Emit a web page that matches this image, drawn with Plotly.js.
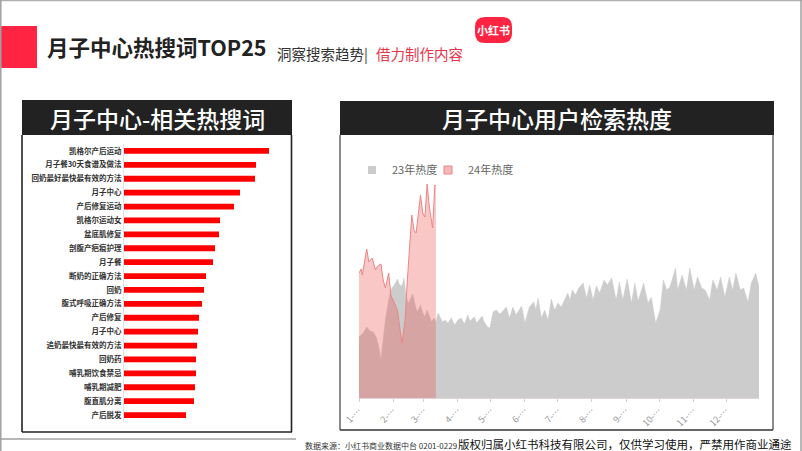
<!DOCTYPE html>
<html><head><meta charset="utf-8">
<script src="https://cdn.plot.ly/plotly-3.0.1.min.js"></script>
<style>html,body{margin:0;padding:0;background:#fff;}#chart{width:802px;height:451px;}</style>
</head><body><div id="chart"></div>
<script>
// ---- data ----
const keywords = ['凯格尔产后运动','月子餐30天食谱及做法','回奶最好最快最有效的方法','月子中心','产后修复运动','凯格尔运动女','盆底肌修复','剖腹产疤痕护理','月子餐','断奶的正确方法','回奶','腹式呼吸正确方法','产后修复','月子中心','追奶最快最有效的方法','回奶药','哺乳期饮食禁忌','哺乳期减肥','腹直肌分离','产后脱发'];
const keywordHeat = [145,132,131,116,110,96,95,91,89,82,80,78,75,74,73,72,72,71,70,62];

const days23 = [0,2,4,7,10,13,16,18,20,22,24,27,29,32,35,37,39,41,43,45,47,49,51,53,56,58,60,62,64,66,68,70,72,74,76,78,81,84,87,90,93,96,99,101,105,107,112,114,117,119,122,125,128,131,134,137,140,143,146,148,151,155,159,161,163,166,169,172,175,178,181,184,187,190,192,194,197,200,204,207,210,213,216,219,223,226,230,234,237,240,244,248,251,254,259,263,266,270,274,277,280,283,288,290,294,298,301,305,308,312,315,319,322,326,329,333,337,340,343,347,350,354,357,361,364];
const heat23 = [61,63,65,71,67,66,60,51,38,58,78,98,108,113,119,113,112,120,101,95,100,104,93,86,93,85,81,88,82,76,80,76,85,81,76,78,75,80,73,78,80,74,83,77,81,75,82,76,71,70,86,88,84,87,91,80,91,83,88,92,75,91,96,88,100,80,88,78,99,88,95,91,98,105,98,108,103,110,115,100,113,98,112,105,118,113,120,98,116,98,119,95,115,97,115,95,101,75,88,118,108,111,130,108,123,108,130,108,121,110,108,98,118,108,121,101,121,108,125,108,110,96,115,125,111];

const days24 = [0,2,3,7,9,12,15,17,20,22,24,27,29,32,35,37,39,42,44,48,50,52,56,58,60,62,64,67,69,70];
const heat24 = [125,129,123,149,136,140,128,132,134,118,110,125,103,95,88,71,55,78,118,183,168,165,203,185,181,214,191,170,213,212];

const monthTickDays = [0,31,59,90,120,151,181,212,243,273,304,334];
const monthTickLabels = ['1-…','2-…','3-…','4-…','5-…','6-…','7-…','8-…','9-…','10-…','11-…','12-…'];
const seriesNames = ['23年热度','24年热度'];

// ---- helpers (pixel -> paper) ----
const W = 802, H = 451;
const px = x => x / W;
const py = y => 1 - y / H;
const CJK = '"Noto Sans CJK SC","Noto Sans",sans-serif';

function rect(x0,y0,x1,y1,fill){return {type:'rect',xref:'paper',yref:'paper',x0:px(x0),x1:px(x1),y0:py(y1),y1:py(y0),fillcolor:fill,line:{width:0},layer:'below'};}
function line(x0,y0,x1,y1,color,w){return {type:'line',xref:'paper',yref:'paper',x0:px(x0),x1:px(x1),y0:py(y0),y1:py(y1),line:{color:color,width:w}};}
function roundRect(x0,y0,x1,y1,r,fill){
  const P=(x,y)=>px(x)+','+py(y);
  const d='M'+P(x0+r,y0)+' L'+P(x1-r,y0)+' Q'+P(x1,y0)+' '+P(x1,y0+r)+' L'+P(x1,y1-r)+' Q'+P(x1,y1)+' '+P(x1-r,y1)+
    ' L'+P(x0+r,y1)+' Q'+P(x0,y1)+' '+P(x0,y1-r)+' L'+P(x0,y0+r)+' Q'+P(x0,y0)+' '+P(x0+r,y0)+' Z';
  return {type:'path',xref:'paper',yref:'paper',path:d,fillcolor:fill,line:{width:0}};
}
function text(t,x,y,size,color,opts,weight){return Object.assign({text:t,xref:'paper',yref:'paper',x:px(x),y:py(y),showarrow:false,xanchor:'left',yanchor:'middle',font:{family:CJK,size:size,color:color,weight:weight||'normal'}},opts||{});}
function legendAt(x,y){return {orientation:'h',x:px(x),y:py(y),xanchor:'left',yanchor:'middle',font:{family:CJK,size:11,color:'#666'},itemwidth:30,bgcolor:'rgba(0,0,0,0)'};}

const idx = keywords.map((_,i)=>i);

const traces = [
  {type:'bar',orientation:'h',x:keywordHeat,y:idx,xaxis:'x',yaxis:'y',marker:{color:'#ff0000'},width:0.42,showlegend:false,hoverinfo:'skip'},
  {type:'scatter',mode:'lines',x:days23,y:heat23,xaxis:'x2',yaxis:'y2',fill:'tozeroy',fillcolor:'#cccccc',line:{color:'#cccccc',width:0.5},name:seriesNames[0],legendgroup:'a',showlegend:false},
  {type:'scatter',mode:'lines',x:days24,y:heat24,xaxis:'x2',yaxis:'y2',fill:'tozeroy',fillcolor:'rgba(240,80,80,0.32)',line:{color:'#e98686',width:1},name:seriesNames[1],legendgroup:'b',showlegend:false},
  {type:'scatter',mode:'markers',x:[null],y:[null],xaxis:'x2',yaxis:'y2',name:seriesNames[0],legendgroup:'a',legend:'legend',marker:{symbol:'square',size:8,color:'#cccccc'}},
  {type:'scatter',mode:'markers',x:[null],y:[null],xaxis:'x2',yaxis:'y2',name:seriesNames[1],legendgroup:'b',legend:'legend2',marker:{symbol:'square',size:8,color:'#f7b8b8',line:{color:'#e98686',width:1}}}
];

const layout = {
  width:W,height:H,autosize:false,
  margin:{l:0,r:0,t:0,b:0,pad:0},
  paper_bgcolor:'#ffffff',plot_bgcolor:'rgba(0,0,0,0)',
  font:{family:CJK},
  xaxis:{domain:[px(124),px(292)],range:[0,168],visible:false,anchor:'y',fixedrange:true},
  yaxis:{domain:[py(422),py(144)],range:[19.5,-0.5],tickmode:'array',tickvals:idx,ticktext:keywords,ticks:'',showline:true,linecolor:'#e2e2e2',linewidth:1,showgrid:false,zeroline:false,anchor:'x',tickfont:{family:CJK,size:7.5,color:'#333',weight:'bold'}},
  xaxis2:{domain:[px(359),px(759)],range:[0,364],anchor:'y2',tickmode:'array',tickvals:monthTickDays,ticktext:monthTickLabels,tickangle:-45,ticks:'outside',ticklen:3,tickcolor:'#d0d0d0',showline:true,linecolor:'#e0d4d4',showgrid:false,zeroline:false,tickfont:{family:CJK,size:9,color:'#999'}},
  yaxis2:{domain:[py(398),py(182)],range:[0,216],visible:false,anchor:'x2'},
  legend:legendAt(352,170),
  legend2:legendAt(428,170),
  shapes:[
    line(0,0.5,802,0.5,'#b0b0b0',1.5),
    line(0.8,0,0.8,451,'#a0a0a0',1.5),
    line(801,0,801,451,'#a0a0a0',1.5),
    line(0,439,296,439,'#a0a0a0',1.5),
    rect(0,26,37,68,'#ff2442'),
    roundRect(475,17,512,43,10,'#ff2442'),
    rect(22,100,292,135,'#222222'),
    line(22,135,22,432,'#222',1.6),
    line(291.5,135,291.5,432,'#222',1.6),
    line(22,432,292,432,'#222',1.6),
    rect(340,101,774,135,'#222222'),
    line(340,135,340,430,'#666',1.5),
    line(773,135,773,430,'#666',1.5),
    line(340,430,773,430,'#333',1.6)
  ],
  annotations:[
    text('月子中心热搜词TOP25',45,46,21.5,'#222',null,'bold'),
    text('洞察搜索趋势|',275,53,14.5,'#333'),
    text('借力制作内容',374,53,14.5,'#e8354a'),
    text('小红书',493.5,30,11,'#ffffff',{xanchor:'center'},'bold'),
    text('月子中心-相关热搜词',157,118,23,'#ffffff',{xanchor:'center'},'500'),
    text('月子中心用户检索热度',557,118,23,'#ffffff',{xanchor:'center'},'500'),
    text('数据来源：小红书商业数据中台 0201-0229',303,445,8,'#333'),
    text('版权归属小红书科技有限公司，仅供学习使用，严禁用作商业通途',456,444,11.5,'#111')
  ]
};

Plotly.newPlot('chart',traces,layout,{staticPlot:true,displayModeBar:false});
</script>
</body></html>
